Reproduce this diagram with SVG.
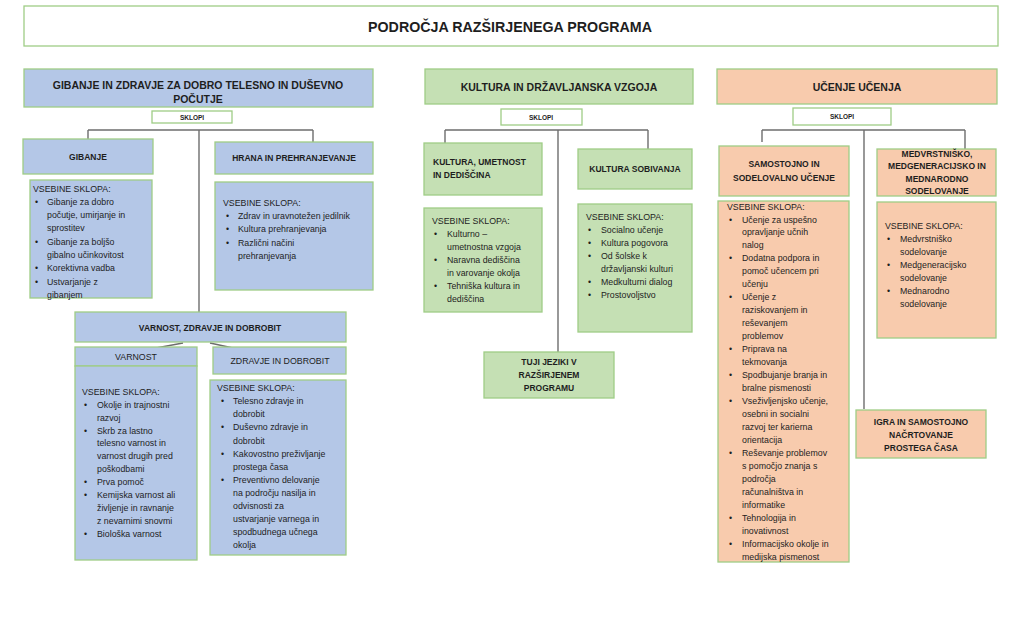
<svg xmlns="http://www.w3.org/2000/svg" width="1024" height="630" viewBox="0 0 1024 630">
<style>
text{font-family:"Liberation Sans",Arial,sans-serif;fill:#1e1e1e;dominant-baseline:central}
.box{stroke:#9fcd86;stroke-width:1.3}
.blue{fill:#b4c7e7}.green{fill:#c5e0b4}.orange{fill:#f8cbad}.white{fill:#ffffff}
.h{font-size:10.5px;font-weight:bold;text-anchor:middle}
.hs{font-size:8.5px;font-weight:bold;text-anchor:middle}
.hl{font-size:8.5px;font-weight:bold;text-anchor:start}
.sk{font-size:6.5px;font-weight:bold;text-anchor:middle}
.t{font-size:8.8px}
.n{font-size:8.8px;text-anchor:middle}
.c{stroke:#6e6e6e;stroke-width:1.4;fill:none}
</style>
<rect width="1024" height="630" fill="#ffffff"/>

<g id="title">
<rect class="box white" x="24" y="6" width="974" height="40"/>
<text x="510" y="27" font-size="14" font-weight="bold" text-anchor="middle" textLength="284" lengthAdjust="spacingAndGlyphs">PODROČJA RAZŠIRJENEGA PROGRAMA</text>
</g>

<g id="connectors">
<path class="c" d="M88 130H313M88 130V139M313 130V142M199 130V312"/>
<path class="c" d="M183 343L156 348M210 343L233 348"/>
<path class="c" d="M445 130H648M445 130V143M648 130V149M558 130V352"/>
<path class="c" d="M762 130H965M762 130V142M965 130V149M864 130V409"/>
</g>

<!-- Column 1 -->
<g id="gibanje-zdravje">
<rect class="box blue" x="24" y="69" width="349" height="38"/>
<text class="h" x="198" y="85">GIBANJE IN ZDRAVJE ZA DOBRO TELESNO IN DUŠEVNO</text>
<text class="h" x="198" y="99">POČUTJE</text>
</g>
<g id="sklopi-1">
<rect class="box white" x="152" y="111" width="80" height="12"/>
<text class="sk" x="192" y="117">SKLOPI</text>
</g>
<g id="gibanje">
<rect class="box blue" x="23" y="139" width="130" height="35"/>
<text class="hs" x="88" y="157">GIBANJE</text>
</g>
<g id="hrana">
<rect class="box blue" x="215" y="142" width="158" height="32"/>
<text class="hs" x="294" y="158">HRANA IN PREHRANJEVANJE</text>
</g>
<g id="gibanje-vsebine">
<rect class="box blue" x="30" y="180" width="122" height="118"/>
<text class="t" x="33" y="189">VSEBINE  SKLOPA:</text>
<text class="t" x="35" y="202">•</text><text class="t" x="47" y="202">Gibanje za dobro</text>
<text class="t" x="47" y="215">počutje, umirjanje in</text>
<text class="t" x="47" y="228">sprostitev</text>
<text class="t" x="35" y="242">•</text><text class="t" x="47" y="242">Gibanje za boljšo</text>
<text class="t" x="47" y="255">gibalno učinkovitost</text>
<text class="t" x="35" y="268">•</text><text class="t" x="47" y="268">Korektivna vadba</text>
<text class="t" x="35" y="282">•</text><text class="t" x="47" y="282">Ustvarjanje z</text>
<text class="t" x="47" y="295">gibanjem</text>
</g>
<g id="hrana-vsebine">
<rect class="box blue" x="215" y="182" width="158" height="108"/>
<text class="t" x="223" y="203">VSEBINE  SKLOPA:</text>
<text class="t" x="226" y="216">•</text><text class="t" x="238" y="216">Zdrav in uravnotežen  jedilnik</text>
<text class="t" x="226" y="229">•</text><text class="t" x="238" y="229">Kultura prehranjevanja</text>
<text class="t" x="226" y="243">•</text><text class="t" x="238" y="243">Različni načini</text>
<text class="t" x="238" y="256">prehranjevanja</text>
</g>
<g id="varnost-zdravje">
<rect class="box blue" x="75" y="312" width="271" height="30"/>
<text class="hs" x="210" y="328">VARNOST, ZDRAVJE IN DOBROBIT</text>
</g>
<g id="varnost">
<rect class="box blue" x="75" y="347" width="122" height="19"/>
<text class="n" x="136" y="357">VARNOST</text>
<rect class="box blue" x="75" y="366" width="122" height="194"/>
<text class="t" x="82" y="392">VSEBINE  SKLOPA:</text>
<text class="t" x="84" y="405">•</text><text class="t" x="97" y="405">Okolje in trajnostni</text>
<text class="t" x="97" y="418">razvoj</text>
<text class="t" x="84" y="431">•</text><text class="t" x="97" y="431">Skrb za lastno</text>
<text class="t" x="97" y="443">telesno varnost in</text>
<text class="t" x="97" y="456">varnost drugih pred</text>
<text class="t" x="97" y="469">poškodbami</text>
<text class="t" x="84" y="482">•</text><text class="t" x="97" y="482">Prva pomoč</text>
<text class="t" x="84" y="495">•</text><text class="t" x="97" y="495">Kemijska varnost ali</text>
<text class="t" x="97" y="508">življenje in ravnanje</text>
<text class="t" x="97" y="521">z nevarnimi snovmi</text>
<text class="t" x="84" y="534">•</text><text class="t" x="97" y="534">Biološka varnost</text>
</g>
<g id="zdravje-dobrobit">
<rect class="box blue" x="213" y="347" width="133" height="27"/>
<text class="n" x="280" y="361">ZDRAVJE  IN DOBROBIT</text>
<rect class="box blue" x="210" y="380" width="136" height="175"/>
<text class="t" x="217" y="388">VSEBINE  SKLOPA:</text>
<text class="t" x="221" y="401">•</text><text class="t" x="233" y="401">Telesno zdravje in</text>
<text class="t" x="233" y="414">dobrobit</text>
<text class="t" x="221" y="427">•</text><text class="t" x="233" y="427">Duševno zdravje in</text>
<text class="t" x="233" y="441">dobrobit</text>
<text class="t" x="221" y="454">•</text><text class="t" x="233" y="454">Kakovostno preživljanje</text>
<text class="t" x="233" y="467">prostega časa</text>
<text class="t" x="221" y="480">•</text><text class="t" x="233" y="480">Preventivno delovanje</text>
<text class="t" x="233" y="493">na področju nasilja in</text>
<text class="t" x="233" y="506">odvisnosti za</text>
<text class="t" x="233" y="519">ustvarjanje varnega in</text>
<text class="t" x="233" y="532">spodbudnega učnega</text>
<text class="t" x="233" y="545">okolja</text>
</g>

<!-- Column 2 -->
<g id="kultura-drzavljanska">
<rect class="box green" x="425" y="69" width="268" height="35"/>
<text class="h" x="559" y="87">KULTURA IN DRŽAVLJANSKA VZGOJA</text>
</g>
<g id="sklopi-2">
<rect class="box white" x="501" y="109" width="81" height="16"/>
<text class="sk" x="541" y="117">SKLOPI</text>
</g>
<g id="kultura-umetnost">
<rect class="box green" x="424" y="143" width="118" height="52"/>
<text class="hl" x="433" y="162">KULTURA,  UMETNOST</text>
<text class="hl" x="433" y="175">IN DEDIŠČINA</text>
</g>
<g id="kultura-sobivanja">
<rect class="box green" x="578" y="149" width="114" height="40"/>
<text class="hs" x="635" y="169">KULTURA  SOBIVANJA</text>
</g>
<g id="kultura-umetnost-vsebine">
<rect class="box green" x="424" y="208" width="118" height="104"/>
<text class="t" x="432" y="221">VSEBINE  SKLOPA:</text>
<text class="t" x="434" y="234">•</text><text class="t" x="447" y="234">Kulturno –</text>
<text class="t" x="447" y="247">umetnostna  vzgoja</text>
<text class="t" x="434" y="260">•</text><text class="t" x="447" y="260">Naravna dediščina</text>
<text class="t" x="447" y="273">in varovanje okolja</text>
<text class="t" x="434" y="286">•</text><text class="t" x="447" y="286">Tehniška kultura in</text>
<text class="t" x="447" y="299">dediščina</text>
</g>
<g id="kultura-sobivanja-vsebine">
<rect class="box green" x="578" y="204" width="114" height="128"/>
<text class="t" x="586" y="217">VSEBINE  SKLOPA:</text>
<text class="t" x="588" y="230">•</text><text class="t" x="601" y="230">Socialno učenje</text>
<text class="t" x="588" y="243">•</text><text class="t" x="601" y="243">Kultura pogovora</text>
<text class="t" x="588" y="256">•</text><text class="t" x="601" y="256">Od šolske k</text>
<text class="t" x="601" y="269">državljanski kulturi</text>
<text class="t" x="588" y="282">•</text><text class="t" x="601" y="282">Medkulturni dialog</text>
<text class="t" x="588" y="295">•</text><text class="t" x="601" y="295">Prostovoljstvo</text>
</g>
<g id="tuji-jeziki">
<rect class="box green" x="484" y="352" width="130" height="46"/>
<text class="hs" x="549" y="362">TUJI JEZIKI  V</text>
<text class="hs" x="549" y="375">RAZŠIRJENEM</text>
<text class="hs" x="549" y="388">PROGRAMU</text>
</g>

<!-- Column 3 -->
<g id="ucenje-ucenja">
<rect class="box orange" x="717" y="69" width="280" height="35"/>
<text class="h" x="857" y="87">UČENJE UČENJA</text>
</g>
<g id="sklopi-3">
<rect class="box white" x="793" y="108" width="98" height="17"/>
<text class="sk" x="842" y="116">SKLOPI</text>
</g>
<g id="samostojno">
<rect class="box orange" x="719" y="146" width="130" height="50"/>
<text class="hs" x="784" y="164">SAMOSTOJNO  IN</text>
<text class="hs" x="784" y="178">SODELOVALNO UČENJE</text>
</g>
<g id="medvrstnisko">
<rect class="box orange" x="877" y="149" width="119" height="47"/>
<text class="hs" x="937" y="154">MEDVRSTNIŠKO,</text>
<text class="hs" x="937" y="166">MEDGENERACIJSKO  IN</text>
<text class="hs" x="937" y="179">MEDNARODNO</text>
<text class="hs" x="937" y="191">SODELOVANJE</text>
</g>
<g id="samostojno-vsebine">
<rect class="box orange" x="718" y="201" width="131" height="361"/>
<text class="t" x="727" y="207">VSEBINE  SKLOPA:</text>
<text class="t" x="729" y="220">•</text><text class="t" x="742" y="220">Učenje za uspešno</text>
<text class="t" x="742" y="232">opravljanje učnih</text>
<text class="t" x="742" y="245">nalog</text>
<text class="t" x="729" y="258">•</text><text class="t" x="742" y="258">Dodatna podpora in</text>
<text class="t" x="742" y="271">pomoč učencem  pri</text>
<text class="t" x="742" y="284">učenju</text>
<text class="t" x="729" y="297">•</text><text class="t" x="742" y="297">Učenje z</text>
<text class="t" x="742" y="310">raziskovanjem in</text>
<text class="t" x="742" y="323">reševanjem</text>
<text class="t" x="742" y="336">problemov</text>
<text class="t" x="729" y="349">•</text><text class="t" x="742" y="349">Priprava na</text>
<text class="t" x="742" y="362">tekmovanja</text>
<text class="t" x="729" y="375">•</text><text class="t" x="742" y="375">Spodbujanje branja in</text>
<text class="t" x="742" y="388">bralne pismenosti</text>
<text class="t" x="729" y="401">•</text><text class="t" x="742" y="401">Vseživljenjsko učenje,</text>
<text class="t" x="742" y="414">osebni in socialni</text>
<text class="t" x="742" y="427">razvoj ter karierna</text>
<text class="t" x="742" y="440">orientacija</text>
<text class="t" x="729" y="453">•</text><text class="t" x="742" y="453">Reševanje problemov</text>
<text class="t" x="742" y="466">s pomočjo znanja s</text>
<text class="t" x="742" y="479">področja</text>
<text class="t" x="742" y="492">računalništva in</text>
<text class="t" x="742" y="505">informatike</text>
<text class="t" x="729" y="518">•</text><text class="t" x="742" y="518">Tehnologija in</text>
<text class="t" x="742" y="531">inovativnost</text>
<text class="t" x="729" y="544">•</text><text class="t" x="742" y="544">Informacijsko okolje in</text>
<text class="t" x="742" y="557">medijska pismenost</text>
</g>
<g id="medvrstnisko-vsebine">
<rect class="box orange" x="877" y="202" width="119" height="136"/>
<text class="t" x="885" y="226">VSEBINE  SKLOPA:</text>
<text class="t" x="887" y="239">•</text><text class="t" x="900" y="239">Medvrstniško</text>
<text class="t" x="900" y="252">sodelovanje</text>
<text class="t" x="887" y="265">•</text><text class="t" x="900" y="265">Medgeneracijsko</text>
<text class="t" x="900" y="278">sodelovanje</text>
<text class="t" x="887" y="291">•</text><text class="t" x="900" y="291">Mednarodno</text>
<text class="t" x="900" y="304">sodelovanje</text>
</g>
<g id="igra">
<rect class="box orange" x="856" y="410" width="130" height="48"/>
<text class="hs" x="921" y="422">IGRA IN SAMOSTOJNO</text>
<text class="hs" x="921" y="435">NAČRTOVANJE</text>
<text class="hs" x="921" y="448">PROSTEGA  ČASA</text>
</g>
</svg>
